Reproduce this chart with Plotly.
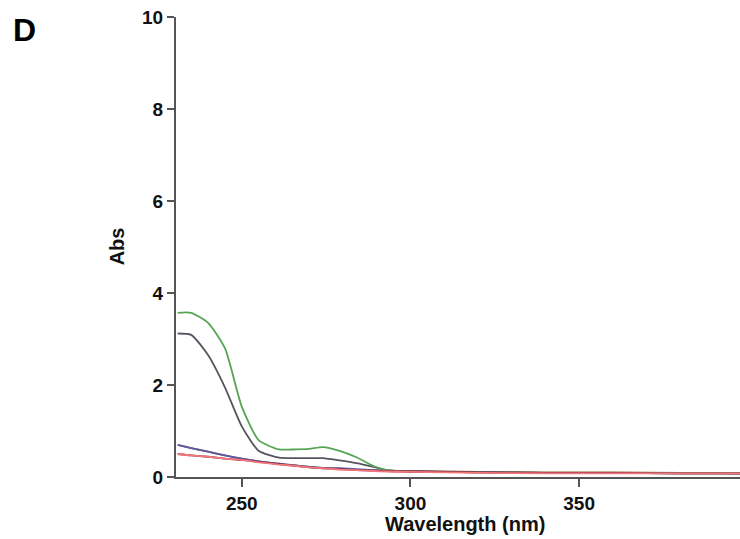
import plotly.graph_objects as go

wavelength = [231, 235, 240, 245, 250, 255, 261, 266, 270, 274, 279, 284, 289, 293, 300, 310, 320, 340, 360, 380, 398]

green = [3.57, 3.57, 3.35, 2.80, 1.53, 0.80, 0.60, 0.60, 0.61, 0.65, 0.57, 0.43, 0.24, 0.15, 0.12, 0.11, 0.10, 0.09, 0.09, 0.08, 0.08]
gray = [3.12, 3.09, 2.65, 1.95, 1.10, 0.57, 0.42, 0.41, 0.41, 0.41, 0.36, 0.30, 0.22, 0.15, 0.12, 0.11, 0.10, 0.09, 0.09, 0.08, 0.08]
blue = [0.70, 0.63, 0.55, 0.47, 0.40, 0.34, 0.29, 0.25, 0.22, 0.20, 0.19, 0.17, 0.15, 0.13, 0.12, 0.11, 0.10, 0.09, 0.09, 0.08, 0.08]
purple = [0.50, 0.47, 0.44, 0.40, 0.37, 0.33, 0.28, 0.24, 0.21, 0.19, 0.17, 0.15, 0.14, 0.13, 0.12, 0.11, 0.10, 0.09, 0.09, 0.08, 0.08]
brown = [0.70, 0.63, 0.55, 0.47, 0.40, 0.34, 0.29, 0.25, 0.22, 0.20, 0.18, 0.16, 0.15, 0.14, 0.13, 0.12, 0.11, 0.10, 0.10, 0.09, 0.08]
red = [0.50, 0.47, 0.44, 0.40, 0.37, 0.32, 0.27, 0.24, 0.21, 0.19, 0.16, 0.15, 0.13, 0.12, 0.11, 0.10, 0.09, 0.08, 0.08, 0.08, 0.08]

series = [
    ("brown", brown, "#8a6a30"),
    ("blue", blue, "#5a5aa8"),
    ("gray", gray, "#555560"),
    ("green", green, "#55a555"),
    ("purple", purple, "#8a2050"),
    ("red", red, "#f07878"),
]

x_ticks = [250, 300, 350]
y_ticks = [0, 2, 4, 6, 8, 10]

fig = go.Figure()
for name, vals, col in series:
    fig.add_trace(go.Scatter(x=wavelength, y=vals, mode="lines", name=name,
                             line=dict(color=col, width=1.8, shape="spline", smoothing=0.6),
                             showlegend=False))

fam = "Liberation Sans"
tick_font = dict(size=19, family=fam, color="#111111")
fig.update_layout(
    width=740, height=539,
    margin=dict(l=176, r=0, t=17, b=62),
    paper_bgcolor="white", plot_bgcolor="white",
    font=dict(family=fam, color="#111111"),
    xaxis=dict(range=[230.5, 397.7], tickvals=x_ticks, ticktext=[f"<b>{v}</b>" for v in x_ticks],
               ticks="outside", ticklen=8, tickwidth=2, tickcolor="#555555",
               showline=True, linecolor="#555555", linewidth=2, showgrid=False, zeroline=False,
               tickfont=tick_font),
    yaxis=dict(range=[0, 10], tickvals=y_ticks, ticktext=[f"<b>{v}</b>" for v in y_ticks],
               ticks="outside", ticklen=7, tickwidth=2, tickcolor="#555555",
               showline=True, linecolor="#555555", linewidth=2, showgrid=False, zeroline=False,
               tickfont=tick_font),
    annotations=[
        dict(text="<b>D</b>", x=-0.269, y=0.972, xref="paper", yref="paper",
             xanchor="center", yanchor="middle", showarrow=False,
             font=dict(size=32, family=fam, color="#000000")),
        dict(text="<b>Wavelength (nm)</b>", x=0.512, y=-0.102, xref="paper", yref="paper",
             xanchor="center", yanchor="middle", showarrow=False,
             font=dict(size=20, family=fam, color="#111111")),
        dict(text="<b>Abs</b>", x=-0.105, y=0.501, xref="paper", yref="paper", textangle=-90,
             xanchor="center", yanchor="middle", showarrow=False,
             font=dict(size=20, family=fam, color="#111111")),
    ],
)
fig.write_html("out.html")
